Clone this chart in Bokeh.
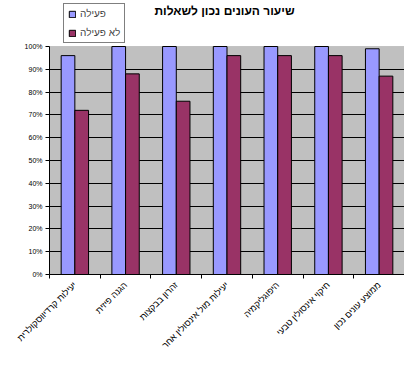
import numpy as np
from bokeh.plotting import figure
from bokeh.models import (ColumnDataSource, FixedTicker, NumeralTickFormatter, Legend, LegendItem,
                          Range1d, BoxAnnotation, Label)
from bokeh.transform import dodge
from bokeh.embed import file_html
from bokeh.resources import INLINE

title = "שיעור העונים נכון לשאלות"
categories = [
    "יעילות קרדיווסקולרית",
    "הגנה פיזית",
    "זהרון בבקצות",
    "יעילות מול אינסולין אחר",
    "היפוגליקמיה",
    "חיקוי אינסולין טבעי",
    "ממוצע עונים נכון",
]
series_names = ["פעילה", "לא פעילה"]
active = [0.96, 1.00, 1.00, 1.00, 1.00, 1.00, 0.99]
inactive = [0.72, 0.88, 0.76, 0.96, 0.96, 0.96, 0.87]
y_ticks = [0, 0.1, 0.2, 0.3, 0.4, 0.5, 0.6, 0.7, 0.8, 0.9, 1.0]

n = len(categories)
centers = list(np.arange(n) + 0.5)
bounds = list(np.arange(n + 1).astype(float))

src = ColumnDataSource(dict(x=centers, a=active, b=inactive))

FONT = "Liberation Sans"

# layout in pixels
W, H = 404, 361
LEFT, TOP, BOTTOM = 49, 46, 274
y_top = 1.0 + TOP / (BOTTOM - TOP)

p = figure(width=W, height=H, output_backend="svg", toolbar_location=None,
           x_range=Range1d(0, n), y_range=Range1d(0, y_top),
           min_border_left=LEFT, min_border_right=0, min_border_top=0,
           min_border_bottom=H - BOTTOM)
p.background_fill_color = "white"
p.border_fill_color = "white"
p.outline_line_color = None

plot_area = BoxAnnotation(top=1.0, fill_color="#C0C0C0", fill_alpha=1,
                          line_color="#808080", line_width=1, level="image")
p.add_layout(plot_area)

r1 = p.vbar(x=dodge("x", -0.135, range=p.x_range), top="a", width=0.27, source=src,
            fill_color="#9999FF", line_color="black", line_width=1)
r2 = p.vbar(x=dodge("x", 0.135, range=p.x_range), top="b", width=0.27, source=src,
            fill_color="#993366", line_color="black", line_width=1)

p.xgrid.grid_line_color = None
p.ygrid.ticker = FixedTicker(ticks=y_ticks[1:-1])
p.ygrid.grid_line_color = "black"
p.ygrid.grid_line_width = 1

ya = p.yaxis[0]
ya.ticker = FixedTicker(ticks=y_ticks)
ya.bounds = (0, 1)
ya.formatter = NumeralTickFormatter(format="0%")
ya.major_label_text_font = FONT
ya.major_label_text_font_size = "7px"
ya.major_label_text_color = "black"
ya.axis_line_color = "black"
ya.major_tick_line_color = "black"
ya.major_tick_in = 0
ya.major_tick_out = 4
ya.minor_tick_line_color = None
ya.major_label_standoff = 3

xa = p.xaxis[0]
xa.ticker = FixedTicker(ticks=centers, minor_ticks=bounds)
xa.major_label_overrides = {c: name for c, name in zip(centers, categories)}
xa.major_label_orientation = np.pi / 4
xa.major_label_text_font = FONT
xa.major_label_text_font_size = "9px"
xa.major_label_text_color = "black"
xa.axis_line_color = "black"
xa.major_tick_line_color = None
xa.major_tick_out = 0
xa.major_tick_in = 0
xa.minor_tick_line_color = "black"
xa.minor_tick_in = 0
xa.minor_tick_out = 4
xa.major_label_standoff = 5

title_label = Label(x=224 - LEFT, y=BOTTOM - 10, x_units="screen", y_units="screen",
                    text=title, text_align="center", text_baseline="middle",
                    text_font=FONT, text_font_size="12px", text_font_style="bold",
                    text_color="black")
p.add_layout(title_label)

legend = Legend(items=[LegendItem(label=series_names[0], renderers=[r1]),
                       LegendItem(label=series_names[1], renderers=[r2])],
                location=(63 - LEFT, BOTTOM - 43))
legend.label_text_font = FONT
legend.label_text_font_size = "10px"
legend.border_line_color = "black"
legend.border_line_width = 1
legend.background_fill_color = "white"
legend.background_fill_alpha = 1
legend.glyph_width = 8
legend.glyph_height = 8
legend.spacing = 8
legend.padding = 4
legend.margin = 0
legend.label_standoff = 4
legend.label_height = 10
p.add_layout(legend, "center")

open("out.html", "w").write(file_html(p, INLINE))
